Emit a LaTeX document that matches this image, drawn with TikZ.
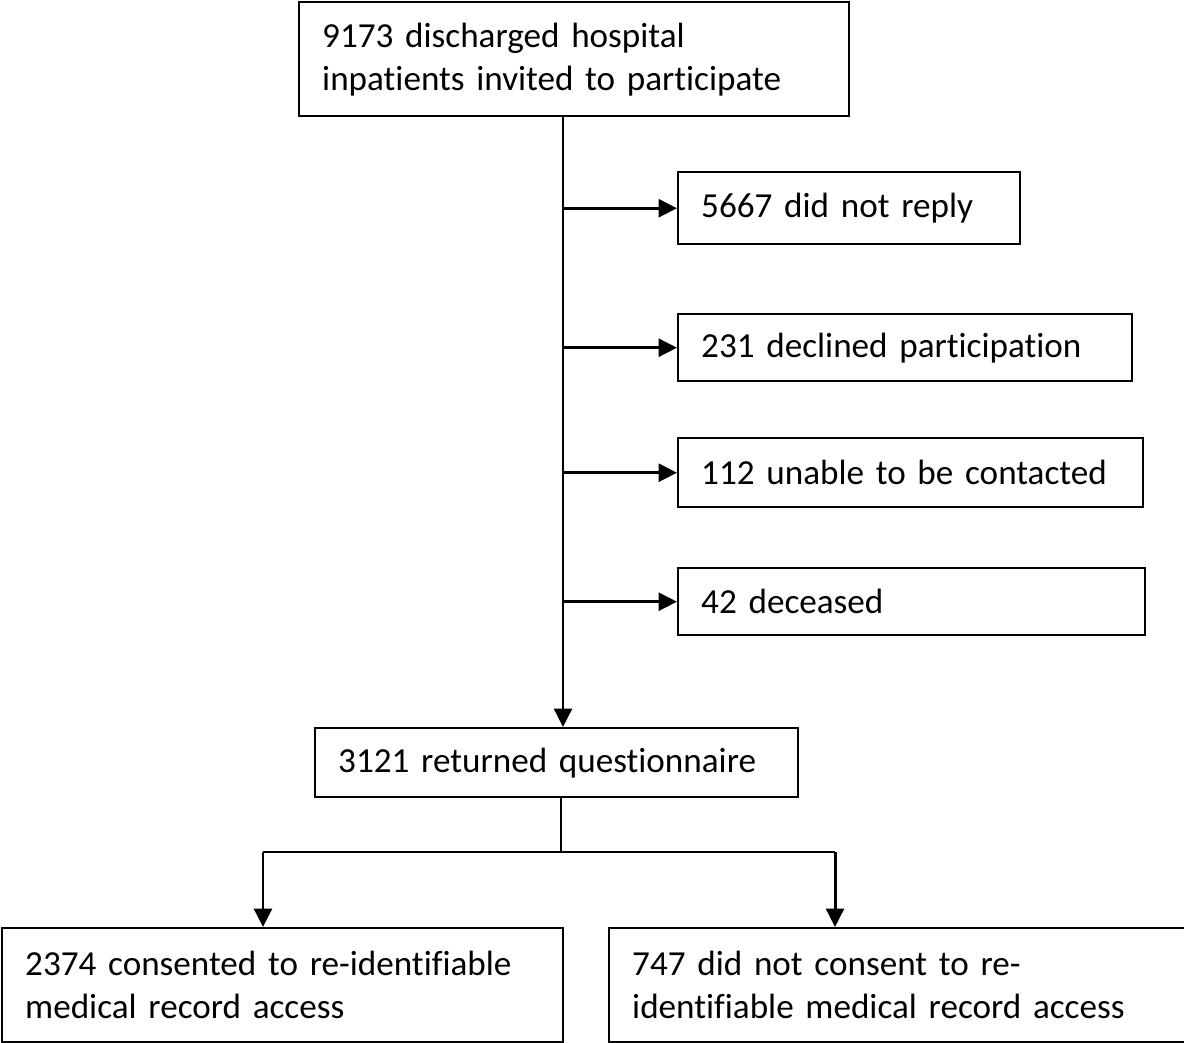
\documentclass[tikz,border=0pt]{standalone}
\usepackage{fontspec}
\setmainfont{Carlito}[Ligatures=NoCommon]
\usetikzlibrary{arrows.meta}

\begin{document}
\begin{tikzpicture}[x=0.02cm,y=-0.02cm,>={Triangle[length=0.37cm,width=0.36cm]},
    box/.style={draw,line width=1.4pt,anchor=north west,align=left,inner xsep=0.46cm,inner ysep=0pt,
      font=\fontsize{20}{24.5}\selectfont},
    flow/.style={->,line width=1.7pt},
    link/.style={line width=0.7pt}]

    % Cadre de l'image
    \useasboundingbox (0,0) rectangle (1184,1042);

    % Les boites
    \node[box,text width=10.08cm,minimum height=2.28cm] (invited) at (298,1)
        {9173 discharged hospital\\inpatients invited to participate};
    \node[box,text width=5.92cm,minimum height=1.44cm] (noreply) at (677,171) {5667 did not reply};
    \node[box,text width=8.16cm,minimum height=1.34cm] (declined) at (677,313) {231 declined participation};
    \node[box,text width=8.38cm,minimum height=1.38cm] (unable) at (677,437) {112 unable to be contacted};
    \node[box,text width=8.42cm,minimum height=1.34cm] (deceased) at (677,567) {42 deceased};
    \node[box,text width=8.74cm,minimum height=1.38cm] (returned) at (314,727) {3121 returned questionnaire};
    \node[box,text width=10.3cm,minimum height=2.28cm] (consent) at (1,927)
        {2374 consented to re-identifiable\\medical record access};
    \node[box,text width=10.6cm,minimum height=2.28cm] (noconsent) at (608,927)
        {747 did not consent to re-\\identifiable medical record access};

    % Points de branchement
    \coordinate (trunk) at (563,115);
    \coordinate (split) at (561,852);
    \coordinate (left) at (263,852);
    \coordinate (right) at (835,852);

    % Ligne principale et sorties
    \draw[flow] (trunk) -- (trunk |- returned.north);
    \draw[flow] (noreply.west -| trunk) -- (noreply.west);
    \draw[flow] (declined.west -| trunk) -- (declined.west);
    \draw[flow] (unable.west -| trunk) -- (unable.west);
    \draw[flow] (deceased.west -| trunk) -- (deceased.west);

    % Partage en deux groupes
    \draw[link] (returned.south -| split) -- (split);
    \draw[link] (left) -- (right);
    \draw[flow] (left) -- (left |- consent.north);
    \draw[flow] (right) -- (right |- noconsent.north);
\end{tikzpicture}
\end{document}
